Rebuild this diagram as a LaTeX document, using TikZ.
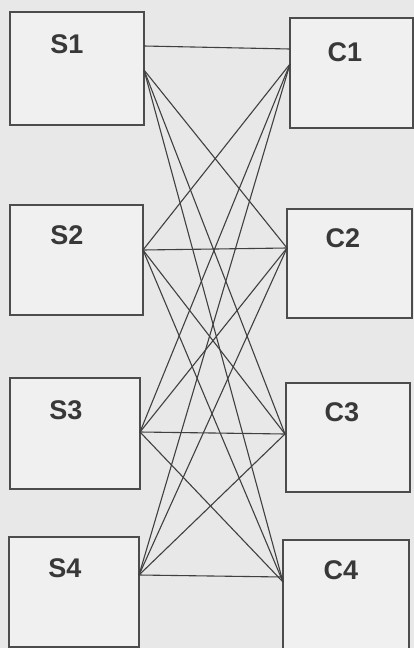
\documentclass[tikz,border=0pt]{standalone}
\usepackage{fontspec}
\setmainfont{Liberation Sans}
\begin{document}
\begin{tikzpicture}[x=1pt,y=-1pt,
  box/.style={draw=black!70,line width=1.3pt,fill=white!94!black},
  lbl/.style={font=\bfseries\fontsize{27}{27}\selectfont,text=black!78,inner sep=0pt},
  wire/.style={draw=black!75,line width=1.1pt}]
\fill[white!91!black] (0,0) rectangle (414,648);
\useasboundingbox (0,0) rectangle (414,648);
% boxes
\draw[box] (10,12) rectangle (144,125);
\draw[box] (10,205) rectangle (143,315);
\draw[box] (10,378) rectangle (140,489);
\draw[box] (9,537) rectangle (139,647);
\draw[box] (290,18) rectangle (413,128);
\draw[box] (287,209) rectangle (412,318);
\draw[box] (286,383) rectangle (410,492);
\draw[box] (283,540) rectangle (409,652);
% labels
\node[lbl] (S1) at (67,44) {S1};
\node[lbl] (S2) at (67,235) {S2};
\node[lbl] (S3) at (66,410) {S3};
\node[lbl] (S4) at (65,568) {S4};
\node[lbl] (C1) at (345,52) {C1};
\node[lbl] (C2) at (343,238) {C2};
\node[lbl] (C3) at (342,412) {C3};
\node[lbl] (C4) at (341,570) {C4};
% ports
\coordinate (s1h) at (144,46);
\coordinate (s1) at (144,70);
\coordinate (s2) at (143,250);
\coordinate (s3) at (140,432);
\coordinate (s4) at (139,575);
\coordinate (c1h) at (290,49);
\coordinate (c1) at (290,64);
\coordinate (c2) at (287,248);
\coordinate (c3) at (285,434);
\coordinate (c4h) at (283,577);
\coordinate (c4) at (283,582);
% wires
\draw[wire] (s1h) -- (c1h);
\foreach \t in {c2,c3,c4} \draw[wire] (s1) -- (\t);
\foreach \s in {s2,s3,s4} \draw[wire] (\s) -- (c1);
\foreach \s in {s2,s3,s4} \foreach \t in {c2,c3} \draw[wire] (\s) -- (\t);
\foreach \s in {s2,s3} \draw[wire] (\s) -- (c4);
\draw[wire] (s4) -- (c4h);
\end{tikzpicture}
\end{document}
